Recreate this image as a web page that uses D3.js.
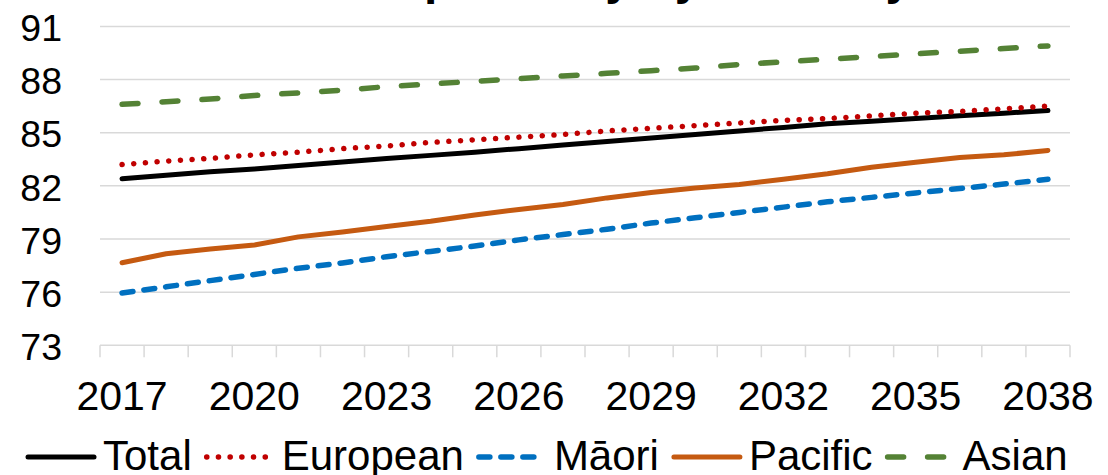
<!DOCTYPE html>
<html>
<head>
<meta charset="utf-8">
<script src="https://cdn.jsdelivr.net/npm/d3@7"></script>
<style>
  html, body { margin: 0; padding: 0; background: #fff; }
  svg { display: block; font-family: "Liberation Sans", Arial, sans-serif; }
</style>
</head>
<body>
<svg id="chart" width="1108" height="475"></svg>
<script>
// Projected life expectancy by ethnic group, 2017–2038
const years = d3.range(2017, 2039);
const yearLabels = [2017, 2020, 2023, 2026, 2029, 2032, 2035, 2038];
const yTicks = [73, 76, 79, 82, 85, 88, 91];

const total    = [82.4, 82.6, 82.8, 82.95, 83.15, 83.35, 83.55, 83.72, 83.9, 84.1, 84.3, 84.5, 84.7, 84.9, 85.1, 85.3, 85.5, 85.65, 85.8, 85.95, 86.1, 86.25];
const european = [83.2, 83.4, 83.55, 83.75, 83.9, 84.1, 84.25, 84.45, 84.6, 84.75, 84.9, 85.1, 85.25, 85.4, 85.55, 85.7, 85.8, 85.95, 86.1, 86.2, 86.35, 86.5];
const maori    = [75.95, 76.3, 76.65, 77.0, 77.35, 77.65, 78.0, 78.3, 78.6, 78.95, 79.25, 79.55, 79.9, 80.2, 80.5, 80.8, 81.1, 81.35, 81.6, 81.85, 82.1, 82.37];
const pacific  = [77.66, 78.17, 78.43, 78.66, 79.12, 79.4, 79.71, 80.0, 80.36, 80.67, 80.95, 81.32, 81.63, 81.88, 82.08, 82.37, 82.68, 83.05, 83.33, 83.6, 83.75, 84.0];
const asian    = [86.6, 86.75, 86.9, 87.1, 87.25, 87.4, 87.6, 87.75, 87.9, 88.05, 88.2, 88.35, 88.5, 88.65, 88.85, 89.0, 89.15, 89.3, 89.45, 89.6, 89.75, 89.9];

const seriesNames = ["Total", "European", "Māori", "Pacific", "Asian"];
const seriesValues = [total, european, maori, pacific, asian];

const styles = {
  "Total":    { color: "#000000", dash: null,       width: 5 },
  "European": { color: "#C00000", dash: "0.1,11.6", width: 5.5 },
  "Māori":    { color: "#0070C0", dash: "11,11",    width: 5.5 },
  "Pacific":  { color: "#C55A11", dash: null,       width: 5 },
  "Asian":    { color: "#548235", dash: "16,24",    width: 5.5 }
};

const svg = d3.select("#chart");
const plotLeft = 100, plotRight = 1070, plotTop = 26.4, plotBottom = 345.3;

const x = d3.scaleBand().domain(years).range([plotLeft, plotRight]).padding(0);
const y = d3.scaleLinear().domain([73, 91]).range([plotBottom, plotTop]);
const cx = d => x(d) + x.bandwidth() / 2;

// Title (sits mostly above the top edge of the canvas)
svg.append("text")
  .attr("x", 592).attr("y", -6)
  .attr("text-anchor", "middle")
  .attr("font-size", 48).attr("font-weight", "bold")
  .attr("fill", "#000")
  .text("Life expectancy by ethnicity");

// Horizontal gridlines
svg.append("g").selectAll("line")
  .data(yTicks.filter(t => t !== 73))
  .join("line")
  .attr("x1", plotLeft).attr("x2", plotRight)
  .attr("y1", d => y(d)).attr("y2", d => y(d))
  .attr("stroke", "#D9D9D9").attr("stroke-width", 1.5);

// Y axis labels
const yAxis = d3.axisLeft(y).tickValues(yTicks).tickSize(0).tickPadding(0).tickFormat(d3.format("d"));
const yg = svg.append("g").attr("transform", "translate(62,0)").call(yAxis);
yg.select(".domain").remove();
yg.selectAll("text")
  .attr("font-size", 37.5).attr("font-family", "Liberation Sans, Arial, sans-serif")
  .attr("fill", "#000").attr("dy", "0.38em");

// X axis baseline and tick marks at category boundaries
svg.append("line")
  .attr("x1", plotLeft).attr("x2", plotRight)
  .attr("y1", y(73)).attr("y2", y(73))
  .attr("stroke", "#D9D9D9").attr("stroke-width", 1.5);
const boundaries = years.map(d => x(d)).concat([x(years[years.length - 1]) + x.bandwidth()]);
svg.append("g").selectAll("line")
  .data(boundaries)
  .join("line")
  .attr("x1", d => d).attr("x2", d => d)
  .attr("y1", y(73)).attr("y2", y(73) + 12)
  .attr("stroke", "#D9D9D9").attr("stroke-width", 1.5);

// X axis labels
const xAxis = d3.axisBottom(x).tickValues(yearLabels).tickSize(0).tickPadding(0);
const xg = svg.append("g").attr("transform", `translate(0,${y(73)})`).call(xAxis);
xg.select(".domain").remove();
xg.selectAll("text")
  .attr("font-size", 41).attr("font-family", "Liberation Sans, Arial, sans-serif")
  .attr("fill", "#000").attr("dy", null).attr("y", 65);

// Series lines
const line = d3.line().x((d, i) => cx(years[i])).y(d => y(d));
seriesNames.forEach((name, k) => {
  const s = styles[name];
  svg.append("path")
    .datum(seriesValues[k])
    .attr("d", line)
    .attr("fill", "none")
    .attr("stroke", s.color)
    .attr("stroke-width", s.width)
    .attr("stroke-linecap", "round")
    .attr("stroke-linejoin", "round")
    .attr("stroke-dasharray", s.dash);
});

// Legend
const legend = svg.append("g");
let lx = 25;
const ly = 457;
seriesNames.forEach(name => {
  const s = styles[name];
  legend.append("line")
    .attr("x1", lx + 3).attr("x2", lx + 69)
    .attr("y1", ly).attr("y2", ly)
    .attr("stroke", s.color).attr("stroke-width", s.width)
    .attr("stroke-linecap", "round")
    .attr("stroke-dasharray", s.dash);
  const t = legend.append("text")
    .attr("x", lx + 78).attr("y", ly + 13)
    .attr("font-size", 42).attr("fill", "#000")
    .text(name);
  lx += 78 + t.node().getComputedTextLength() + 12;
});
</script>
</body>
</html>
